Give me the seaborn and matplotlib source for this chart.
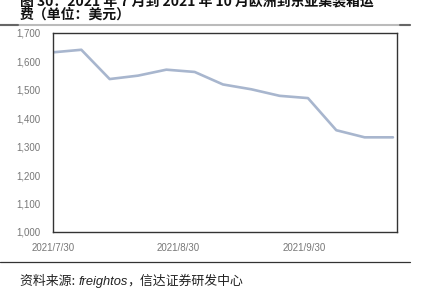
import matplotlib
matplotlib.use("Agg")
import matplotlib.pyplot as plt
from matplotlib.ticker import FuncFormatter
import seaborn as sns
import pandas as pd

dates = ["2021-07-30", "2021-08-06", "2021-08-13", "2021-08-20", "2021-08-27",
         "2021-09-03", "2021-09-10", "2021-09-17", "2021-09-24", "2021-10-01",
         "2021-10-08", "2021-10-15", "2021-10-22"]
values = [1632, 1641, 1538, 1550, 1571, 1563, 1519, 1502, 1479, 1471, 1358, 1333, 1333]
tick_dates = ["2021-07-30", "2021-08-30", "2021-09-30"]
tick_labels = ["2021/7/30", "2021/8/30", "2021/9/30"]
title_line1 = "图 30：2021 年 7 月到 2021 年 10 月欧洲到东亚集装箱运"
title_line2 = "费（单位：美元）"
source_cn1 = "资料来源: "
source_en = "freightos"
source_cn2 = "，信达证券研发中心"

df = pd.DataFrame({"date": pd.to_datetime(dates), "value": values})

sns.set_style("white")
plt.rcParams['font.family'] = ['Noto Sans CJK SC', 'DejaVu Sans']

fig = plt.figure(figsize=(4.21, 2.95), dpi=100)
ax = fig.add_axes([53/421, 1 - 232/295, (397-53)/421, (232-33)/295])

sns.lineplot(data=df, x="date", y="value", ax=ax, color="#A8B6CE", linewidth=1.9)

ax.set_ylim(1000, 1700)
ax.set_yticks(range(1000, 1701, 100))
ax.yaxis.set_major_formatter(FuncFormatter(lambda v, p: f"{int(v):,}"))
ax.set_xlim(pd.Timestamp("2021-07-30"), pd.Timestamp("2021-10-23"))
ax.set_xticks(pd.to_datetime(tick_dates))
ax.set_xticklabels(tick_labels)
ax.set_xlabel("")
ax.set_ylabel("")
ax.tick_params(axis="both", direction="in", length=3, width=0.8, color="#333333",
               labelsize=7, labelcolor="#777777")
ax.tick_params(axis="x", pad=8)
ax.tick_params(axis="y", pad=9)
for lbl in ax.get_xticklabels() + ax.get_yticklabels():
    lbl.set_family(["Liberation Sans", "DejaVu Sans"])
for s in ax.spines.values():
    s.set_color("#333333")
    s.set_linewidth(1.0)
ax.grid(False)

fig.text(20/421, 1 - 5/295, title_line1, fontsize=10, fontweight="bold", color="#111111",
         va="baseline", ha="left")
fig.text(20/421, 1 - 19/295, title_line2, fontsize=10, fontweight="bold", color="#111111",
         va="baseline", ha="left")

fig.add_artist(plt.Line2D([0, 410/421], [1 - 25/295, 1 - 25/295], color="#BBBBBB", linewidth=1.5))
fig.add_artist(plt.Line2D([0, 18/421], [1 - 25/295, 1 - 25/295], color="#666666", linewidth=1.5))
fig.add_artist(plt.Line2D([400/421, 410/421], [1 - 25/295, 1 - 25/295], color="#666666", linewidth=1.5))
fig.add_artist(plt.Line2D([0, 410/421], [1 - 262/295, 1 - 262/295], color="#333333", linewidth=0.9))

t1 = fig.text(20/421, 1 - 285/295, source_cn1, fontsize=9.3, color="#222222",
              va="baseline", ha="left")
fig.canvas.draw()
r = fig.canvas.get_renderer()
bb = t1.get_window_extent(r)
t2 = fig.text(bb.x1 / 421, 1 - 285/295, source_en, fontsize=9.3, style="italic",
              family=["Liberation Sans", "DejaVu Sans"], color="#222222",
              va="baseline", ha="left")
bb2 = t2.get_window_extent(r)
fig.text(bb2.x1 / 421, 1 - 285/295, source_cn2, fontsize=9.3, color="#222222",
         va="baseline", ha="left")

fig.savefig("out.png", dpi=100)
